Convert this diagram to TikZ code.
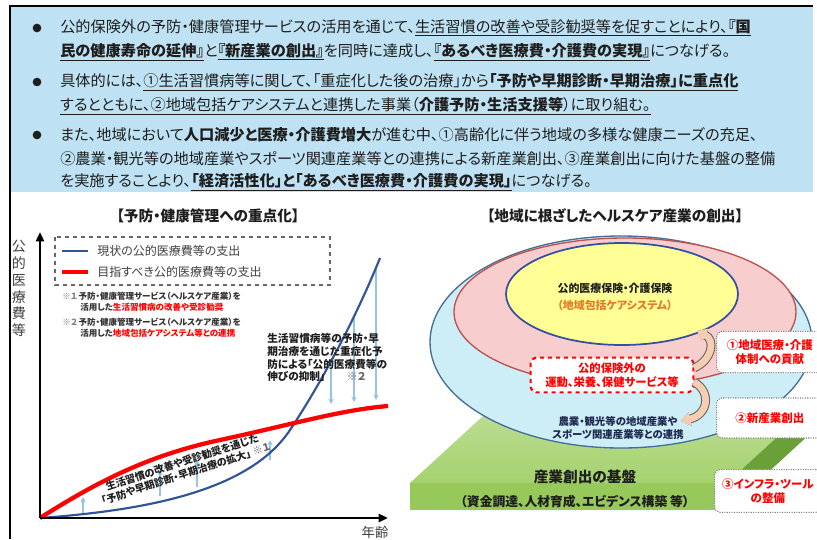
\documentclass[tikz,border=0pt]{standalone}
\usepackage{fontspec}
\setmainfont{Noto Sans CJK JP}[RawFeature=+palt]
\usetikzlibrary{arrows.meta}
\definecolor{panel}{RGB}{190,226,243}
\definecolor{txt}{RGB}{30,30,30}
\definecolor{navy}{RGB}{47,85,151}
\definecolor{lb}{RGB}{150,195,230}
\definecolor{outerc}{RGB}{205,238,246}
\definecolor{pinkc}{RGB}{248,205,205}
\definecolor{yelc}{RGB}{255,255,150}
\definecolor{peach}{RGB}{248,206,178}
\definecolor{gtop}{RGB}{190,222,150}
\definecolor{gtop2}{RGB}{165,210,110}
\definecolor{gfront}{RGB}{150,200,90}
\definecolor{gside}{RGB}{105,160,55}
\definecolor{orangec}{RGB}{230,120,40}
\newcommand\fsz[1]{\fontsize{#1}{\dimexpr #1*6/5\relax}\selectfont}
\newcommand\ul[1]{\underline{#1}}
\begin{document}
\begin{tikzpicture}[x=0.75pt,y=-0.75pt,
  line/.style={anchor=west,inner sep=0pt,text=txt,font=\fsz{11.4pt}},
  bul/.style={circle,fill=txt,inner sep=0pt,minimum size=6.5pt},
  lbar/.style={draw=lb,line width=1.3pt,-{Stealth[length=4pt,width=4pt]}},
  lab/.style={draw=gray,densely dotted,line width=0.8pt,rounded corners=4pt,fill=white,text=red,font=\fsz{8.6pt}\bfseries,align=center,inner sep=0pt},
  parrow/.style={line width=5pt,draw=peach,preaction={draw=black!60,line width=6.6pt},-{Triangle[length=7pt,width=10pt]}}]
\useasboundingbox (0,0) rectangle (817,539);
\fill[white] (0,0) rectangle (817,539);
% panel
\fill[panel] (10,6) rectangle (813,192);
\draw[black,line width=1pt] (10,539) -- (10,6) -- (813,6);
\node[bul] (b1) at (37,28) {};
\node[bul] (b2) at (37,82) {};
\node[bul] (b3) at (37,135) {};
\node[line] (t1) at (60,28) {公的保険外の予防・健康管理サービスの活用を通じて、\ul{生活習慣の改善や受診勧奨等を促すことにより、\textbf{『国}}};
\node[line] (t2) at (60,52) {\ul{\textbf{民の健康寿命の延伸』}}と\ul{\textbf{『新産業の創出』}}を同時に達成し、\ul{\textbf{『あるべき医療費・介護費の実現』}}につなげる。};
\node[line] (t3) at (60,82) {具体的には、\ul{①生活習慣病等に関して、「重症化した後の治療」から\textbf{「予防や早期診断・早期治療」に重点化}}};
\node[line] (t4) at (60,106) {\ul{するとともに、②地域包括ケアシステムと連携した事業（\textbf{介護予防・生活支援等}）に取り組む。}};
\node[line] (t5) at (60,135) {また、地域において\textbf{人口減少と医療・介護費増大}が進む中、①高齢化に伴う地域の多様な健康ニーズの充足、};
\node[line] (t6) at (60,159) {②農業・観光等の地域産業やスポーツ関連産業等との連携による新産業創出、③産業創出に向けた基盤の整備};
\node[line] (t7) at (60,182) {を実施することより、\ul{\textbf{「経済活性化」と「あるべき医療費・介護費の実現」}}につなげる。};
% ===== left chart
\node[font=\fsz{11pt}\bfseries,text=txt] (lt) at (208,216) {【予防・健康管理への重点化】};
\coordinate (O) at (40,518);
\coordinate (ytop) at (40,232);
\coordinate (xend) at (388,518);
\node[font=\fsz{10.5pt},text=black!75,align=center,inner sep=0pt,anchor=north] (ylab) at (19,240) {公\\的\\医\\療\\費\\等};
\node[font=\fsz{10pt},text=black!75] (xlab) at (375,532) {年齢};
% legend
\draw[black!60,dashed,line width=0.8pt] (55,237) rectangle (330,285);
\coordinate (lg1a) at (62,251); \coordinate (lg1b) at (88,251);
\coordinate (lg2a) at (62,272); \coordinate (lg2b) at (88,272);
\draw[navy,line width=2.2pt] (lg1a) -- (lg1b);
\draw[red,line width=2.6pt] (lg2a) -- (lg2b);
\node[anchor=west,font=\fsz{9pt},text=black!75,inner sep=0pt] (lgt1) at (97,251) {現状の公的医療費等の支出};
\node[anchor=west,font=\fsz{9pt},text=black!75,inner sep=0pt] (lgt2) at (97,272) {目指すべき公的医療費等の支出};
\node[anchor=west,font=\fsz{6.4pt}\bfseries,text=black!80,inner sep=0pt] (n1) at (62,296) {{\color{black!50}※１}\,予防・健康管理サービス（ヘルスケア産業）を};
\node[anchor=west,font=\fsz{6.4pt}\bfseries,text=black!80,inner sep=0pt] (n1b) at (80,307) {活用した{\color{red}生活習慣病の改善や受診勧奨}};
\node[anchor=west,font=\fsz{6.4pt}\bfseries,text=black!80,inner sep=0pt] (n2) at (62,322) {{\color{black!50}※２}\,予防・健康管理サービス（ヘルスケア産業）を};
\node[anchor=west,font=\fsz{6.4pt}\bfseries,text=black!80,inner sep=0pt] (n2b) at (80,333) {活用した{\color{red}地域包括ケアシステム等との連携}};
% light blue arrows
\draw[lbar] (83,514) -- (83,497);
\draw[lbar] (160,496) -- (160,470);
\draw[lbar] (197,487) -- (197,460);
\draw[lbar] (270,460) -- (270,440);
\draw[lbar] (331,360) -- (331,404);
\draw[lbar] (354,318) -- (354,402);
\draw[lbar] (376,268) -- (376,400);
% curves
\draw[navy,line width=1.6pt] (O) .. controls (150,510) and (250,490) .. (290,430) .. controls (320,385) and (355,320) .. (380,258);
\draw[red,line width=3.2pt] (O) .. controls (100,480) and (150,455) .. (220,440) .. controls (290,425) and (340,410) .. (388,406);
% axes
\draw[black,line width=1.8pt,-{Triangle[length=7pt,width=6pt]}] (O) -- (ytop);
\draw[black,line width=1.8pt,-{Triangle[length=7pt,width=6pt]}] (O) -- (xend);
\node[font=\fsz{7.6pt}\bfseries,text=txt,align=center,rotate=18,inner sep=0pt] (rt) at (184,468) {生活習慣の改善や受診勧奨を通じた\\「予防や早期診断・早期治療の拡大」\ {\color{black!60}※１}};
\node[font=\fsz{8pt}\bfseries,text=txt,align=left,anchor=north west,inner sep=0pt] (st) at (267,333) {生活習慣病等の予防・早\\期治療を通じた重症化予\\防による「公的医療費等の\\伸びの抑制」\qquad{\color{black!60}※２}};
% ===== right
\node[font=\fsz{11pt}\bfseries,text=txt] (rtt) at (615,216) {【地域に根ざしたヘルスケア産業の創出】};
% green platform
\coordinate (gA) at (410,483); \coordinate (gB) at (727,483);
\coordinate (gC) at (812,405); \coordinate (gD) at (495,405);
\coordinate (gE) at (727,510); \coordinate (gF) at (410,510); \coordinate (gG) at (812,432);
\shade[top color=gtop,bottom color=gtop2] (gA) -- (gD) -- (gC) -- (gB) -- cycle;
\fill[gfront] (gA) -- (gB) -- (gE) -- (gF) -- cycle;
\fill[gside] (gB) -- (gC) -- (gG) -- (gE) -- cycle;
% ellipses
\draw[fill=outerc,draw={rgb,255:red,70;green,110;blue,150},line width=1pt] (621,342) ellipse [x radius=191,y radius=106];
\draw[fill=pinkc,draw={rgb,255:red,190;green,80;blue,80},line width=1pt] (625,312) ellipse [x radius=171,y radius=74];
\draw[fill=yelc,draw={rgb,255:red,50;green,80;blue,160},line width=1.3pt] (622,294) ellipse [x radius=116,y radius=51];
\node[font=\fsz{8.2pt}\bfseries,text=txt,inner sep=0pt] (y1) at (615,288) {公的医療保険・介護保険};
\node[font=\fsz{8.2pt}\bfseries,text=orangec,inner sep=0pt] (y2) at (615,305) {（地域包括ケアシステム）};
\node[draw=red,dashed,line width=1.6pt,rounded corners=4pt,fill=white,minimum width=122pt,minimum height=26pt,font=\fsz{8.5pt}\bfseries,text=red,align=center,inner sep=1pt] (db) at (612,375) {公的保険外の\\運動、栄養、保健サービス等};
\node[font=\fsz{7.8pt}\bfseries,text={rgb,255:red,30;green,40;blue,80},align=center,inner sep=0pt] (nt) at (618,428) {農業・観光等の地域産業や\\スポーツ関連産業等との連携};
\node[font=\fsz{11pt}\bfseries,text=txt,inner sep=0pt] (kb) at (585,477) {産業創出の基盤};
\node[font=\fsz{9.6pt}\bfseries,text=txt,inner sep=0pt] (kb2) at (575,502) {（資金調達、人材育成、エビデンス構築\ 等）};
% arrows
\coordinate (a1s) at (694,368); \coordinate (a1e) at (697,331);
\coordinate (a2s) at (694,382); \coordinate (a2e) at (681,421);
\draw[parrow] (a1s) .. controls (712,360) and (716,340) .. (a1e);
\draw[parrow] (a2s) .. controls (712,392) and (708,415) .. (a2e);
% labels
\node[lab,minimum width=80pt,minimum height=31pt,anchor=west] (L1) at (716,352) {①地域医療・介護\\体制への貢献};
\node[lab,minimum width=80pt,minimum height=30pt,anchor=west] (L2) at (716,418) {②新産業創出};
\node[lab,minimum width=80pt,minimum height=32pt,anchor=west] (L3) at (714,491) {③インフラ・ツール\\の整備};
\end{tikzpicture}
\end{document}
